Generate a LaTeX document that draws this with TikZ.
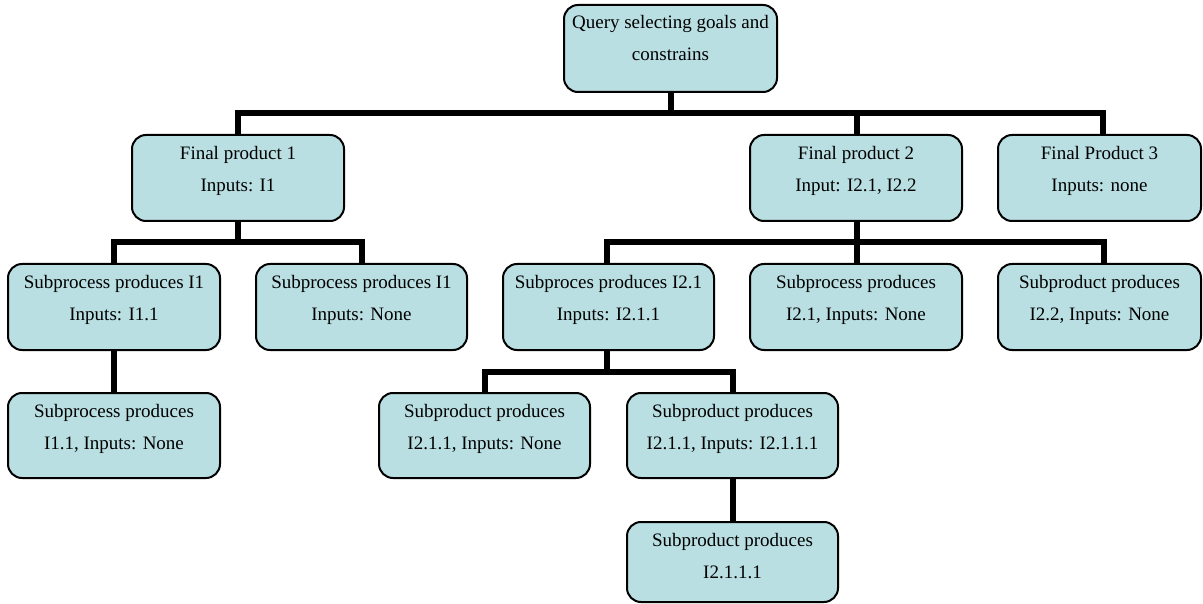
\documentclass[tikz,border=0pt]{standalone}
\usepackage{fontspec}
\setmainfont{Liberation Serif}
\definecolor{boxfill}{RGB}{185,223,227}
\tikzset{
  box/.style={draw=black, line width=2pt, rounded corners=14pt, fill=boxfill, inner sep=0pt, minimum width=212pt, minimum height=86pt},
  txt/.style={anchor=north, align=center, inner sep=0pt, yshift=-12pt, font=\fontsize{19}{32.5}\selectfont},
  conn/.style={draw=black, line width=6pt, line join=miter, line cap=butt}
}
\begin{document}
\begin{tikzpicture}[x=1pt,y=-1pt]
\useasboundingbox (0,0) rectangle (1203,604);
% boxes
\node[box, minimum width=213pt, minimum height=87pt] (Q) at (670.5,48.5) {};
\node[box] (FP1) at (238,178) {};
\node[box] (FP2) at (856,178) {};
\node[box, minimum width=203pt] (FP3) at (1099.5,178) {};
\node[box] (S1) at (114,307) {};
\node[box, minimum width=211pt] (S2) at (361.5,307) {};
\node[box, minimum width=211pt] (S3) at (608.5,307) {};
\node[box] (S4) at (856,307) {};
\node[box, minimum width=203pt] (S5) at (1099.5,307) {};
\node[box, minimum height=85pt] (T1) at (114,435.5) {};
\node[box, minimum width=211pt, minimum height=85pt] (T2) at (484.5,435.5) {};
\node[box, minimum width=211pt, minimum height=85pt] (T3) at (732.5,435.5) {};
\node[box, minimum width=211pt, minimum height=80pt] (U1) at (732.5,562) {};
% texts
\node[txt, yshift=1pt] (tQ) at (Q.north) {Query selecting goals and\\constrains};
\node[txt] (tFP1) at (FP1.north) {Final product 1\\Inputs: I1};
\node[txt] (tFP2) at (FP2.north) {Final product 2\\Input: I2.1, I2.2};
\node[txt] (tFP3) at (FP3.north) {Final Product 3\\Inputs: none};
\node[txt] (tS1) at (S1.north) {Subprocess produces I1\\Inputs: I1.1};
\node[txt] (tS2) at (S2.north) {Subprocess produces I1\\Inputs: None};
\node[txt] (tS3) at (S3.north) {Subproces produces I2.1\\Inputs: I2.1.1};
\node[txt] (tS4) at (S4.north) {Subprocess produces\\I2.1, Inputs: None};
\node[txt] (tS5) at (S5.north) {Subproduct produces\\I2.2, Inputs: None};
\node[txt] (tT1) at (T1.north) {Subprocess produces\\I1.1, Inputs: None};
\node[txt] (tT2) at (T2.north) {Subproduct produces\\I2.1.1, Inputs: None};
\node[txt] (tT3) at (T3.north) {Subproduct produces\\I2.1.1, Inputs: I2.1.1.1};
\node[txt] (tU1) at (U1.north) {Subproduct produces\\I2.1.1.1};
% bus coordinates
\coordinate (b1) at (0,113);
\coordinate (b2) at (0,242.5);
\coordinate (b3) at (0,372);
% connectors
\draw[conn] (Q.south) -- (Q.south |- b1);
\draw[conn] (FP1.north) -- (FP1.north |- b1) -- ([xshift=3.5pt]FP3.north |- b1) -- ([xshift=3.5pt]FP3.north);
\draw[conn] ([xshift=1pt]FP2.north) -- ([xshift=1pt]FP2.north |- b1);
\draw[conn] (FP1.south) -- (FP1.south |- b2);
\draw[conn] (S1.north) -- (S1.north |- b2) -- (S2.north |- b2) -- (S2.north);
\draw[conn] ([xshift=1pt]FP2.south) -- ([xshift=1pt]FP2.south |- b2);
\draw[conn] ([xshift=-1.5pt]S3.north) -- ([xshift=-1.5pt]S3.north |- b2) -- ([xshift=4pt]S5.north |- b2) -- ([xshift=4pt]S5.north);
\draw[conn] ([xshift=1pt]S4.north) -- ([xshift=1pt]S4.north |- b2);
\draw[conn] (S1.south) -- (T1.north);
\draw[conn] ([xshift=-1.5pt]S3.south) -- ([xshift=-1.5pt]S3.south |- b3);
\draw[conn] (T2.north) -- (T2.north |- b3) -- (T3.north |- b3) -- (T3.north);
\draw[conn] (T3.south) -- (U1.north);
\end{tikzpicture}
\end{document}
